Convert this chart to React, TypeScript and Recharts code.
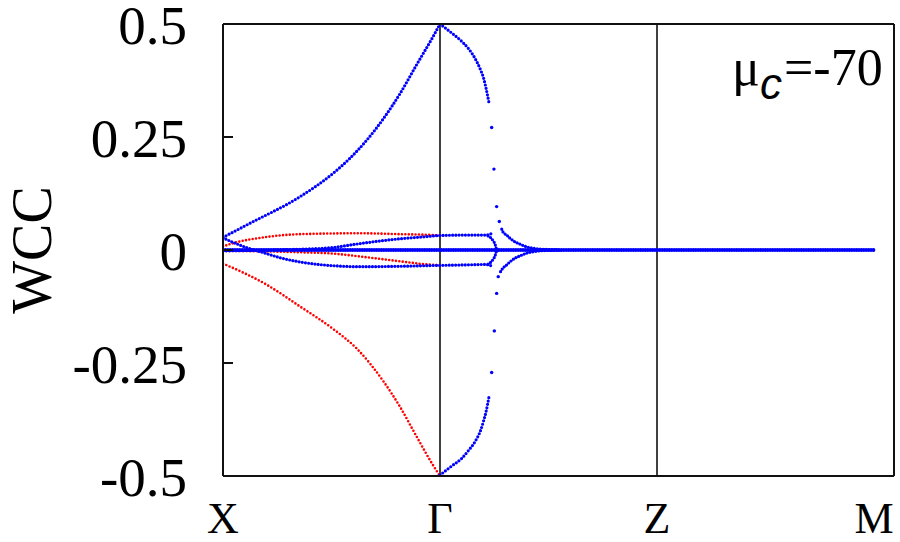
import React from "react";
import {
  ComposedChart,
  Line,
  Scatter,
  XAxis,
  YAxis,
  ReferenceLine,
} from "recharts";

// high-symmetry points along the k path
const kPoints = [0, 1.617, 3.234, 4.851];
const kLabels = ["X", "Γ", "Z", "M"];
const frameTicks = [0, 1, 2, 3, 4, 5];
const wccTicks = [-0.5, -0.25, 0, 0.25, 0.5];

// [k, WCC]
const blueBig = [
  [0, 0.028], [0.2, 0.059], [0.574, 0.118], [0.822, 0.17], [0.946, 0.203],
  [1.071, 0.243], [1.194, 0.29], [1.319, 0.346], [1.443, 0.41], [1.567, 0.473],
  [1.617, 0.5],
];
const redBig = [
  [0, -0.03], [0.326, -0.077], [0.574, -0.125], [0.822, -0.175], [0.996, -0.218],
  [1.194, -0.29], [1.319, -0.347], [1.443, -0.413], [1.567, -0.477], [1.617, -0.5],
];
const blueDown = [
  [0, 0.027], [0.09, 0.015], [0.189, 0.004], [0.313, -0.007], [0.437, -0.018],
  [0.586, -0.027], [0.835, -0.035], [1.02, -0.037], [1.32, -0.036], [1.617, -0.034],
  [1.8, -0.033], [1.95, -0.032], [1.99, -0.034], [2.01, -0.038],
];
const blueUp = [
  [0, -0.002], [0.35, 0], [0.6, 0.002], [0.8, 0.005], [1.04, 0.015],
  [1.29, 0.024], [1.49, 0.029], [1.617, 0.032], [1.8, 0.033], [1.95, 0.033],
  [1.99, 0.035], [2.01, 0.038],
];
const redUp = [
  [0, 0.008], [0.1, 0.017], [0.33, 0.029], [0.57, 0.035], [1.02, 0.037],
  [1.32, 0.035], [1.57, 0.033], [1.617, 0.032],
];
const redDown = [
  [0, -0.002], [0.3, -0.003], [0.57, -0.005], [0.82, -0.008], [1.04, -0.015],
  [1.29, -0.024], [1.49, -0.031], [1.617, -0.034],
];
const zeroBand = [[0, 0], [4.851, 0]];

const arcTop = [
  [1.617, 0.5], [1.692, 0.483], [1.766, 0.465], [1.828, 0.446], [1.878, 0.424],
  [1.92, 0.398], [1.94, 0.382], [1.96, 0.358], [1.982, 0.326],
];
const arcTopSparse = [[2.002, 0.271], [2.019, 0.179], [2.039, 0.096], [2.059, 0.063]];
const tailTop = [
  [2.077, 0.046], [2.086, 0.04], [2.114, 0.033], [2.139, 0.026], [2.176, 0.018],
  [2.213, 0.013], [2.263, 0.007], [2.31, 0.004], [2.385, 0.0015], [2.51, 0.0005],
];
const arcBottom = [
  [1.617, -0.498], [1.704, -0.478], [1.779, -0.461], [1.828, -0.444], [1.878, -0.424],
  [1.922, -0.397], [1.94, -0.38], [1.96, -0.358], [1.982, -0.325],
];
const arcBottomSparse = [[2.002, -0.271], [2.022, -0.179], [2.039, -0.096], [2.051, -0.059]];
const tailBottom = [
  [2.068, -0.048], [2.086, -0.04], [2.114, -0.033], [2.139, -0.026], [2.176, -0.018],
  [2.213, -0.013], [2.263, -0.007], [2.31, -0.004], [2.385, -0.0015], [2.51, -0.0005],
];
const clawTop = [
  [1.975, 0.031], [1.995, 0.027], [2.014, 0.02], [2.027, 0.013], [2.034, 0.006],
  [2.04, 0.001], [2.06, 0],
];
const clawBottom = [
  [1.975, -0.031], [1.995, -0.027], [2.014, -0.02], [2.027, -0.013], [2.034, -0.006],
  [2.04, -0.001], [2.06, 0],
];

const RED = "#ff0000";
const BLUE = "#0000ff";
const SERIF =
  "'Liberation Serif', 'DejaVu Serif', 'Noto Serif', Tinos, FreeSerif, Times, 'Times New Roman', serif";
const serifStyle = { fontFamily: SERIF };

const pts = (a: number[][]) => a.map(([u, v]) => ({ u, v }));

const dotted = (data: number[][], color: string, key: string, w = 3, gap = 3.4) => (
  <Line
    key={key}
    xAxisId="b"
    yAxisId="l"
    data={pts(data)}
    dataKey="v"
    type="monotone"
    stroke={color}
    strokeWidth={w}
    strokeDasharray={`0 ${gap}`}
    strokeLinecap="round"
    dot={false}
    activeDot={false}
    isAnimationActive={false}
    legendType="none"
  />
);

const blueDot = (p: any) => <circle cx={p.cx} cy={p.cy} r={1.7} fill={BLUE} />;

const axisStroke = { stroke: "#111", strokeWidth: 2 };

export default function App() {
  return (
    <div style={{ position: "absolute", left: 0, top: 0, fontFamily: SERIF }}>
      <ComposedChart
        width={900}
        height={542}
        margin={{ top: 23, right: 5, bottom: 64, left: 222 }}
        style={serifStyle}
      >
        <XAxis
          xAxisId="b"
          type="number"
          dataKey="u"
          domain={[0, 5]}
          allowDataOverflow
          ticks={frameTicks}
          interval={0}
          height={1}
          tick={false}
          tickSize={-10}
          axisLine={axisStroke}
          tickLine={axisStroke}
        />
        <XAxis
          xAxisId="lab"
          type="number"
          dataKey="u"
          domain={[0, 5]}
          allowDataOverflow
          ticks={kPoints}
          interval={0}
          height={1}
          tickSize={0}
          tickMargin={25}
          axisLine={false}
          tickLine={false}
          tickFormatter={(v: number) => kLabels[kPoints.indexOf(v)] ?? ""}
          tick={{ fontSize: 44, fill: "#000", fontFamily: SERIF, style: serifStyle }}
        />
        <XAxis
          xAxisId="t"
          orientation="top"
          type="number"
          dataKey="u"
          domain={[0, 5]}
          allowDataOverflow
          ticks={frameTicks}
          interval={0}
          height={1}
          tick={false}
          tickSize={-10}
          axisLine={axisStroke}
          tickLine={axisStroke}
        />
        <YAxis
          yAxisId="l"
          type="number"
          dataKey="v"
          domain={[-0.5, 0.5]}
          allowDataOverflow
          ticks={wccTicks}
          interval={0}
          width={1}
          tickSize={-10}
          tickMargin={46}
          axisLine={axisStroke}
          tickLine={axisStroke}
          tickFormatter={(v: number) => String(v)}
          tick={{ fontSize: 55, fill: "#000", fontFamily: SERIF, style: serifStyle }}
        />
        <YAxis
          yAxisId="r"
          orientation="right"
          type="number"
          dataKey="v"
          domain={[-0.5, 0.5]}
          allowDataOverflow
          ticks={wccTicks}
          interval={0}
          width={1}
          tick={false}
          tickSize={-10}
          axisLine={axisStroke}
          tickLine={axisStroke}
        />

        <ReferenceLine xAxisId="b" yAxisId="l" x={kPoints[1]} stroke="#111" strokeWidth={1.6} />
        <ReferenceLine xAxisId="b" yAxisId="l" x={kPoints[2]} stroke="#111" strokeWidth={1.6} />

        {/* red bands first, blue on top */}
        {dotted(redBig, RED, "redBig", 2.6, 3.6)}
        {dotted(redUp, RED, "redUp", 2.6, 3.4)}
        {dotted(redDown, RED, "redDown", 2.6, 3.4)}

        {dotted(blueBig, BLUE, "blueBig", 3.2, 3.4)}
        {dotted(blueDown, BLUE, "blueDown", 3.2, 3.2)}
        {dotted(blueUp, BLUE, "blueUp", 3.2, 3.2)}
        {dotted(arcTop, BLUE, "arcTop", 3.2, 3.4)}
        {dotted(arcBottom, BLUE, "arcBottom", 3.2, 3.4)}
        {dotted(tailTop, BLUE, "tailTop", 3.2, 3)}
        {dotted(tailBottom, BLUE, "tailBottom", 3.2, 3)}
        {dotted(clawTop, BLUE, "clawTop", 3.2, 3)}
        {dotted(clawBottom, BLUE, "clawBottom", 3.2, 3)}

        <Line
          xAxisId="t"
          yAxisId="r"
          data={pts(zeroBand)}
          dataKey="v"
          type="linear"
          stroke={BLUE}
          strokeWidth={4}
          strokeDasharray="0 2.4"
          strokeLinecap="round"
          dot={false}
          activeDot={false}
          isAnimationActive={false}
          legendType="none"
        />
        <Scatter xAxisId="lab" yAxisId="l" data={pts(arcTopSparse)} shape={blueDot} isAnimationActive={false} legendType="none" />
        <Scatter xAxisId="b" yAxisId="l" data={pts(arcBottomSparse)} shape={blueDot} isAnimationActive={false} legendType="none" />

        <text
          transform="translate(51,250) rotate(-90)"
          textAnchor="middle"
          fontFamily={SERIF}
          style={serifStyle}
          fontSize={56}
          fill="#000"
        >
          WCC
        </text>
        <text fontFamily={SERIF} style={serifStyle} fill="#000">
          <tspan x={732} y={85} fontSize={52}>μ</tspan>
          <tspan
            x={760}
            y={99}
            fontSize={44}
            fontStyle="italic"
            style={{ fontFamily: "'Liberation Sans', Arial, sans-serif" }}
          >
            c
          </tspan>
          <tspan x={784} y={85} fontSize={52}>=-70</tspan>
        </text>
      </ComposedChart>
    </div>
  );
}
